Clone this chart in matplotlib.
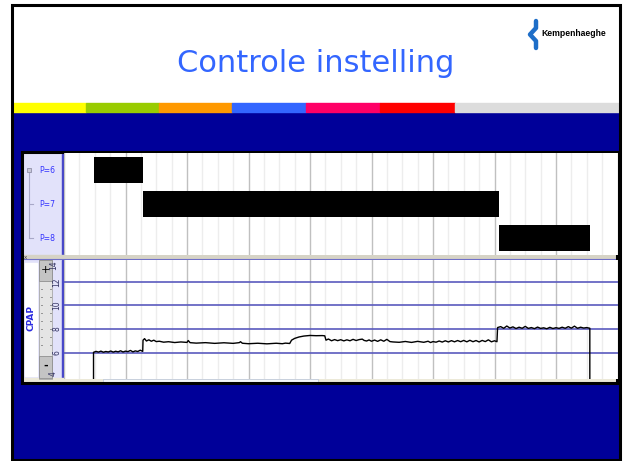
#!/usr/bin/env python3
"""
Slide 'Controle instelling': CPAP titration screenshot (pressure levels P=6/7/8
and measured CPAP trace) on a Kempenhaeghe slide template.
Output: out.png (624x461).
"""

import matplotlib
matplotlib.use("Agg")
import matplotlib.pyplot as plt
from matplotlib.patches import Rectangle
import numpy as np

W, H = 624, 461

# Pressure setting periods (time in hours from start of the recording)
level_names = ["P=6", "P=7", "P=8"]
level_start = [0.49, 1.285, 7.07]
level_end = [1.285, 7.07, 8.55]

cpap_t = [
    0.48, 0.48, 0.52, 0.56, 0.60, 0.64, 0.68, 0.72, 0.76, 0.80, 0.84, 0.88,
    0.92, 0.96, 1.00, 1.04, 1.08, 1.12, 1.16, 1.20, 1.24, 1.28,
    1.285, 1.31, 1.34, 1.38, 1.42, 1.46, 1.50, 1.55, 1.62, 1.70, 1.80, 1.90,
    2.00, 2.02, 2.05, 2.15, 2.30, 2.45, 2.60, 2.75, 2.85, 2.87, 2.90, 3.00,
    3.15, 3.30, 3.45, 3.55, 3.60, 3.67,
    3.70, 3.75, 3.82, 3.90, 4.00, 4.10, 4.20, 4.24,
    4.26, 4.30, 4.35, 4.40, 4.45, 4.50, 4.55, 4.60, 4.65, 4.70, 4.75, 4.80,
    4.85, 4.88, 4.92, 4.96, 5.00, 5.05, 5.10, 5.15, 5.20, 5.25, 5.30, 5.35,
    5.45, 5.55, 5.65, 5.75, 5.85, 5.92, 5.96, 6.00, 6.05, 6.10, 6.15, 6.20,
    6.25, 6.30, 6.35, 6.40, 6.45, 6.50, 6.55, 6.60, 6.65, 6.70, 6.75, 6.80,
    6.85, 6.90, 6.95, 7.00, 7.04,
    7.05, 7.10, 7.15, 7.20, 7.25, 7.30, 7.35, 7.40, 7.45, 7.50, 7.55, 7.60,
    7.65, 7.70, 7.75, 7.80, 7.85, 7.90, 7.95, 8.00, 8.05, 8.10, 8.15, 8.20,
    8.25, 8.30, 8.35, 8.40, 8.45, 8.50, 8.55, 8.55,
]
cpap_v = [
    3.8, 6.02, 6.10, 6.04, 6.12, 6.03, 6.09, 6.05, 6.13, 6.04, 6.11, 6.06,
    6.15, 6.05, 6.12, 6.08, 6.18, 6.06, 6.14, 6.09, 6.20, 6.10,
    7.05, 7.18, 6.98, 7.08, 6.96, 7.05, 6.93, 6.96, 6.88, 6.92, 6.85, 6.90,
    6.86, 7.02, 6.84, 6.80, 6.84, 6.78, 6.83, 6.78, 6.84, 6.92, 6.79, 6.75,
    6.79, 6.74, 6.79, 6.75, 6.80, 6.77,
    7.05, 7.20, 7.32, 7.40, 7.45, 7.43, 7.44, 7.42,
    7.05, 7.15, 7.00, 7.10, 7.01, 7.09, 6.99, 7.08, 7.00, 7.12, 7.02, 7.10,
    7.14, 7.03, 6.98, 7.07, 6.96, 7.06, 6.95, 7.08, 6.96, 7.12, 6.93, 6.90,
    6.87, 6.94, 6.86, 6.95, 6.87, 6.96, 6.85, 6.93, 6.88, 6.98, 6.89, 7.00,
    6.90, 7.01, 6.91, 7.02, 6.92, 7.03, 6.91, 7.04, 6.92, 7.02, 6.90, 7.03,
    6.93, 7.08, 6.91, 7.00, 6.92,
    8.12, 8.20, 8.06, 8.25, 8.08, 8.18, 8.04, 8.15, 8.06, 8.22, 8.05, 8.12,
    8.03, 8.16, 8.05, 8.10, 8.02, 8.14, 8.04, 8.11, 8.05, 8.15, 8.06, 8.20,
    8.07, 8.24, 8.06, 8.15, 8.08, 8.12, 8.06, 3.8,
]
cpap_ticks = [6, 8, 10, 12]

# Slide template colours
stripe_colors = ["#FFFF00", "#99CC00", "#FF9900", "#3366FF", "#FF0066", "#FF0000"]
NAVY = "#000099"
LAVENDER = "#E2E2FA"
PANEL_BLUE = "#4848C8"


def px_axes(fig, x0, y0, x1, y1):
    """Axes placed by pixel box (top-left origin)."""
    return fig.add_axes([x0 / W, 1 - y1 / H, (x1 - x0) / W, (y1 - y0) / H])


def rect(ax, x0, y0, x1, y1, **kw):
    ax.add_patch(Rectangle((x0, y0), x1 - x0, y1 - y0, **kw))


def setup_grid(ax):
    ax.set_xlim(0, 9)
    ax.set_xticks(np.arange(0, 9.01, 1))
    ax.set_xticks(np.arange(0, 9.01, 0.25), minor=True)
    ax.grid(axis="x", which="minor", color="#EDEDED", lw=1.0)
    ax.grid(axis="x", which="major", color="#C0C0C0", lw=1.0)
    ax.tick_params(axis="x", which="both", length=0, labelbottom=False)
    ax.set_axisbelow(True)
    for s in ax.spines.values():
        s.set_visible(False)


def main():
    fig = plt.figure(figsize=(W / 100, H / 100), dpi=100)
    fig.patch.set_facecolor("white")

    # Slide background drawn in pixel coordinates
    bg = fig.add_axes([0, 0, 1, 1])
    bg.set_xlim(0, W)
    bg.set_ylim(H, 0)
    bg.axis("off")

    rect(bg, 12, 112, 619, 459, color=NAVY, zorder=1)
    edges = [13, 86, 159, 232, 306, 380, 455]
    for i, c in enumerate(stripe_colors):
        rect(bg, edges[i], 103, edges[i + 1], 112, color=c, zorder=2)
    rect(bg, 455, 103, 619, 112, color="#DCDCDC", zorder=2)
    rect(bg, 11.5, 5.5, 619.5, 459.5, fill=False, ec="black", lw=2.2, zorder=5)

    bg.text(316, 63, "Controle instelling", color="#3366FF", fontsize=22,
            ha="center", va="center", family="DejaVu Sans", zorder=3)

    # Kempenhaeghe logo
    bg.plot([536, 536, 530, 536, 536], [21, 28, 34.5, 41, 48], color="#1E6EC8",
            lw=3.2, solid_joinstyle="round", solid_capstyle="round", zorder=3)
    bg.text(541, 34, "Kempenhaeghe", fontsize=6.2, fontweight="bold",
            family="Liberation Sans", va="center", ha="left", zorder=3)

    # Screenshot panel
    rect(bg, 22, 152, 617, 383, color="white", zorder=2)
    rect(bg, 24, 154, 62, 256, color=LAVENDER, zorder=3)
    rect(bg, 62, 154, 64, 256, color=PANEL_BLUE, zorder=3)
    # tree on the left of the settings rows
    bg.plot([29, 29], [170, 238], color="#A8A8C8", lw=0.8, zorder=4)
    for y in [204, 238]:
        bg.plot([29, 33], [y, y], color="#A8A8C8", lw=0.8, zorder=4)
    rect(bg, 27, 168, 31, 172, color="#C8C8D8", ec="#9090A8", lw=0.6, zorder=4)
    for name, y in zip(level_names, [170, 204, 238]):
        bg.text(39, y, name, color="#3333FF", fontsize=5.6, va="center",
                ha="left", zorder=4)

    # separator between the two channels
    rect(bg, 22, 255, 617, 260, color="#D6D3C6", zorder=3)
    bg.plot([22, 617], [258.5, 258.5], color="#7070C8", lw=0.8, zorder=4)
    bg.text(25, 257, "x", fontsize=4, color="#404040", ha="center", va="center", zorder=5)

    # CPAP channel header: label box, zoom scrollbar, tick strip
    rect(bg, 24, 260, 62, 379, color=LAVENDER, zorder=3)
    rect(bg, 25, 263, 37, 376, color="white", zorder=4)
    bg.text(31, 318, "CPAP", rotation=90, color="#2B2BE0", fontsize=6.5,
            fontweight="bold", ha="center", va="center", zorder=5)
    rect(bg, 39, 260, 52, 379, color="#E4E4E4", ec="#A8A8A8", lw=0.6, zorder=4)
    rect(bg, 39, 260, 52, 281, color="#C4C4C4", ec="#909090", lw=0.6, zorder=5)
    rect(bg, 39, 356, 52, 378, color="#C4C4C4", ec="#909090", lw=0.6, zorder=5)
    bg.text(45.5, 270, "+", fontsize=8, ha="center", va="center", zorder=6)
    bg.text(45.5, 366, "-", fontsize=8, fontweight="bold", ha="center", va="center", zorder=6)
    for y in np.arange(289, 352, 8):
        bg.plot([40.5, 41.5], [y, y], color="#808080", lw=0.6, zorder=5)
        bg.plot([49.5, 50.5], [y, y], color="#808080", lw=0.6, zorder=5)
    rect(bg, 62, 260, 64, 379, color=PANEL_BLUE, zorder=3)

    # bottom scroll strip
    rect(bg, 22, 378, 617, 383, color="#ECE9D8", zorder=3)
    rect(bg, 103, 378.5, 318, 381.5, color="#F4F6FA", ec="#B8C4D8", lw=0.5, zorder=4)
    rect(bg, 22, 152, 617, 383, fill=False, ec="black", lw=2.2, zorder=6)

    # Channel 1: pressure settings (black bars)
    ax1 = px_axes(fig, 64, 153, 617.5, 255)
    ax1.set_facecolor("white")
    setup_grid(ax1)
    ax1.set_ylim(2.5, -0.5)
    ax1.set_yticks([])
    for i in range(len(level_names)):
        ax1.barh(i, level_end[i] - level_start[i], left=level_start[i],
                 height=0.77, color="black", zorder=3)

    # Channel 2: measured CPAP pressure
    ax2 = px_axes(fig, 64, 260, 617.5, 378.5)
    ax2.set_facecolor("white")
    setup_grid(ax2)
    ax2.set_ylim(3.8, 13.85)
    ax2.set_yticks(cpap_ticks)
    ax2.grid(axis="y", color="#5A5ABE", lw=1.2)
    ax2.tick_params(axis="y", length=0, labelsize=5.5, labelcolor="#303060",
                    rotation=90, pad=2)
    for lbl in ax2.get_yticklabels():
        lbl.set_va("center")
    ax2.text(-0.17, 13.45, "14", rotation=90, fontsize=5.5, color="#303060",
             ha="center", va="center", transform=ax2.transData, clip_on=False)
    ax2.text(-0.17, 4.25, "4", rotation=90, fontsize=5.5, color="#303060",
             ha="center", va="center", transform=ax2.transData, clip_on=False)
    ax2.plot(cpap_t, cpap_v, color="black", lw=1.0, zorder=3)

    fig.savefig("out.png", dpi=100)
    plt.close(fig)


if __name__ == "__main__":
    main()
